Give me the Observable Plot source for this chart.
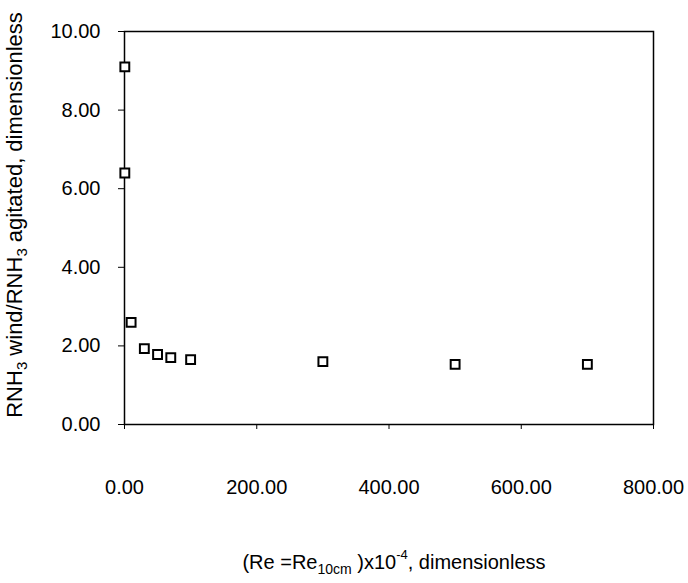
<!DOCTYPE html>
<html>
<head>
<meta charset="utf-8">
<script src="https://cdn.jsdelivr.net/npm/d3@7"></script>
<script src="https://cdn.jsdelivr.net/npm/@observablehq/plot@0.6"></script>
<style>
  body { margin: 0; background: #fff; }
  #chart { width: 688px; height: 583px; }
</style>
</head>
<body>
<div id="chart"></div>
<script>
// Data
const reynolds = [0.5, 0.5, 10, 30, 50, 70, 100, 300, 500, 700];
const ratio = [9.1, 6.4, 2.6, 1.93, 1.78, 1.70, 1.65, 1.60, 1.53, 1.53];
const xTicks = [0, 200, 400, 600, 800];
const yTicks = [0, 2, 4, 6, 8, 10];

const data = reynolds.map((x, i) => ({x, y: ratio[i]}));
const W = 688, H = 583;
const mL = 124, mR = 35, mT = 31, mB = 159;
const font = "'Liberation Sans', Arial, sans-serif";

const plot = Plot.plot({
  width: W,
  height: H,
  marginLeft: mL,
  marginRight: mR,
  marginTop: mT,
  marginBottom: mB,
  style: {fontFamily: font, fontSize: "20px", color: "black", background: "white"},
  x: {domain: [0, 800], label: null},
  y: {domain: [0, 10], label: null},
  marks: [
    Plot.frame({stroke: "black", strokeWidth: 1.5}),
    Plot.axisX({ticks: xTicks, tickFormat: d3.format(".2f"), tickSize: 5, tickPadding: 50, label: null, fontSize: 20}),
    Plot.axisY({ticks: yTicks, tickFormat: d3.format(".2f"), tickSize: 6, tickPadding: 18, label: null, fontSize: 20}),
    Plot.dot(data, {x: "x", y: "y", symbol: "square", r: 5, stroke: "black", strokeWidth: 2, fill: "white"})
  ]
});
document.getElementById("chart").appendChild(plot);

// Axis titles with sub/superscripts as real text
const svg = d3.select(plot);
const yTitle = svg.append("text")
  .attr("transform", `translate(22, 215) rotate(-90)`)
  .attr("text-anchor", "middle")
  .attr("font-family", font)
  .attr("font-size", 22)
  .attr("fill", "black");
yTitle.append("tspan").text("RNH");
yTitle.append("tspan").attr("font-size", 15).attr("dy", 5).text("3");
yTitle.append("tspan").attr("dy", -5).text(" wind/RNH");
yTitle.append("tspan").attr("font-size", 15).attr("dy", 5).text("3");
yTitle.append("tspan").attr("dy", -5).text(" agitated, dimensionless");

const xTitle = svg.append("text")
  .attr("x", 394)
  .attr("y", 569)
  .attr("text-anchor", "middle")
  .attr("font-family", font)
  .attr("font-size", 20)
  .attr("fill", "black");
xTitle.append("tspan").text("(Re =Re");
xTitle.append("tspan").attr("font-size", 14).attr("dy", 5).text("10cm");
xTitle.append("tspan").attr("dy", -5).text(" )x10");
xTitle.append("tspan").attr("font-size", 13).attr("dy", -10).text("-4");
xTitle.append("tspan").attr("dy", 10).text(", dimensionless");
</script>
</body>
</html>
